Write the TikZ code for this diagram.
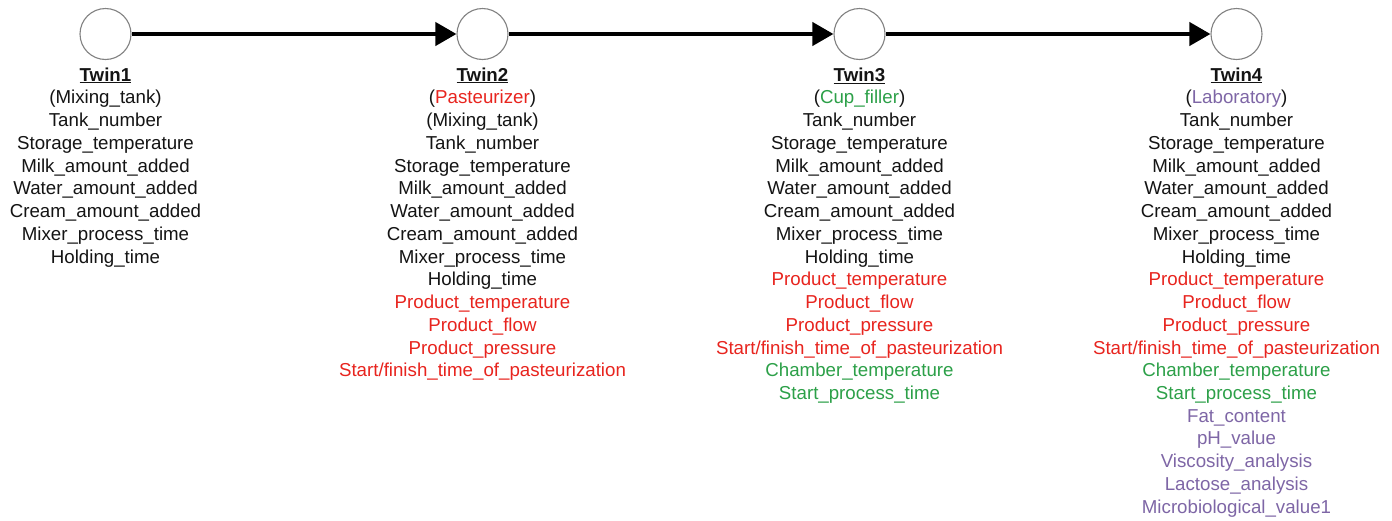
\documentclass[tikz,border=0pt]{standalone}
\usepackage{fontspec}
\setmainfont{Liberation Sans}
\usetikzlibrary{arrows.meta}
\definecolor{tred}{RGB}{232,36,30}
\definecolor{tgreen}{RGB}{44,160,72}
\definecolor{tpurple}{RGB}{126,102,166}
\definecolor{tblack}{RGB}{20,20,20}
\definecolor{tgray}{RGB}{130,130,130}
\newcommand\rd[1]{\textcolor{tred}{#1}}
\newcommand\gr[1]{\textcolor{tgreen}{#1}}
\newcommand\pu[1]{\textcolor{tpurple}{#1}}
\newcommand\twinhead[1]{\strut\underline{\textbf{#1}}}
\newcommand\basevars{Tank\_number\\Storage\_temperature\\Milk\_amount\_added\\Water\_amount\_added\\Cream\_amount\_added\\Mixer\_process\_time\\Holding\_time}
\newcommand\pastvars{\rd{Product\_temperature}\\\rd{Product\_flow}\\\rd{Product\_pressure}\\\rd{Start/finish\_time\_of\_pasteurization}}
\newcommand\cupvars{\gr{Chamber\_temperature}\\\gr{Start\_process\_time}}
\begin{document}
\begin{tikzpicture}[x=1pt,y=1pt,
  twin/.style={circle,draw=tgray,line width=1.1pt,fill=white,minimum size=51pt,inner sep=0pt},
  flow/.style={line width=4pt,draw=black,-{Triangle[length=21pt,width=23pt]}},
  attrs/.style={anchor=north,align=center,inner sep=0pt,text=tblack,
    font=\fontsize{18.7}{22.74}\selectfont}]
\useasboundingbox (0,0) rectangle (1392,-520);
\fill[white] (0,0) rectangle (1392,-520);
\node[twin] (c1) at (105.5,-34) {};
\node[twin] (c2) at (482.5,-34) {};
\node[twin] (c3) at (859.5,-34) {};
\node[twin] (c4) at (1236.5,-34) {};
\draw[flow] (c1) -- (c2);
\draw[flow] (c2) -- (c3);
\draw[flow] (c3) -- (c4);
\node[attrs] (t1) at (105.5,-65) {\twinhead{Twin1}\\(Mixing\_tank)\\\basevars};
\node[attrs] (t2) at (482.5,-65) {\twinhead{Twin2}\\(\rd{Pasteurizer})\\(Mixing\_tank)\\\basevars\\\pastvars};
\node[attrs] (t3) at (859.5,-65) {\twinhead{Twin3}\\(\gr{Cup\_filler})\\\basevars\\\pastvars\\\cupvars};
\node[attrs] (t4) at (1236.5,-65) {\twinhead{Twin4}\\(\pu{Laboratory})\\\basevars\\\pastvars\\\cupvars\\\pu{Fat\_content}\\\pu{pH\_value}\\\pu{Viscosity\_analysis}\\\pu{Lactose\_analysis}\\\pu{Microbiological\_value1}};
\end{tikzpicture}
\end{document}
